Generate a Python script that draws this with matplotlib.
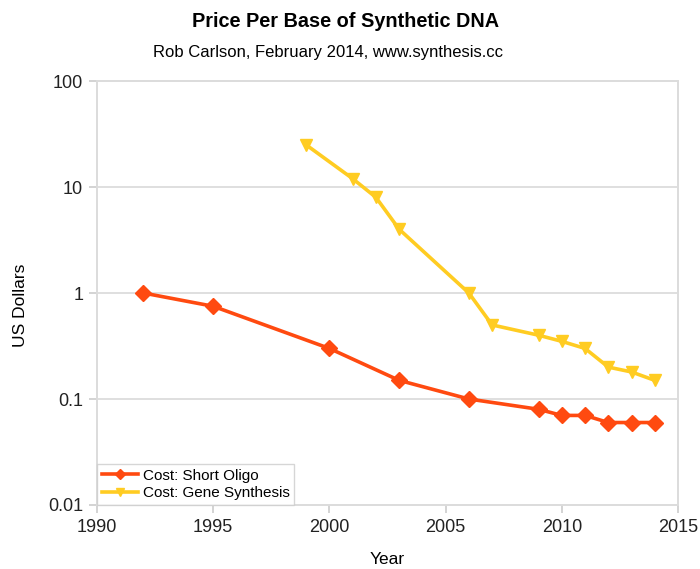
import matplotlib
matplotlib.use("Agg")
import matplotlib.pyplot as plt

# Short oligo synthesis cost per base (USD)
oligo_years = [1992, 1995, 2000, 2003, 2006, 2009, 2010, 2011, 2012, 2013, 2014]
oligo_price = [1.0, 0.75, 0.30, 0.15, 0.10, 0.08, 0.07, 0.07, 0.06, 0.06, 0.06]

# Gene synthesis cost per base (USD)
gene_years = [1999, 2001, 2002, 2003, 2006, 2007, 2009, 2010, 2011, 2012, 2013, 2014]
gene_price = [25, 12, 8, 4, 1.0, 0.5, 0.4, 0.35, 0.30, 0.20, 0.18, 0.15]

x_ticks = [1990, 1995, 2000, 2005, 2010, 2015]
y_ticks = [0.01, 0.1, 1, 10, 100]
y_tick_labels = ["0.01", "0.1", "1", "10", "100"]

plt.rcParams["font.family"] = ["Liberation Sans", "DejaVu Sans"]

fig = plt.figure(figsize=(7, 5.69), dpi=100)
ax = fig.add_axes([0.1386, 0.1125, 0.830, 0.745])

ax.plot(oligo_years, oligo_price, color="#ff4a10", lw=2.6, marker="D",
        markersize=8, label="Cost: Short Oligo")
ax.plot(gene_years, gene_price, color="#ffcc22", lw=2.6, marker="v",
        markersize=9, label="Cost: Gene Synthesis")

ax.set_yscale("log")
ax.set_xlim(1990, 2015)
ax.set_ylim(0.01, 100)
ax.set_xticks(x_ticks)
ax.set_xticklabels([str(t) for t in x_ticks], fontsize=13, color="#222222")
ax.set_yticks(y_ticks)
ax.set_yticklabels(y_tick_labels, fontsize=13, color="#222222")
ax.minorticks_off()
ax.yaxis.grid(True, color="#d9d9d9", lw=1.2)
ax.set_axisbelow(True)

for s in ax.spines.values():
    s.set_color("#dcdcdc")
    s.set_linewidth(1.4)
ax.tick_params(axis="both", color="#cccccc", length=6, width=1.2, pad=4)

ax.set_xlabel("Year", fontsize=12.5)
ax.xaxis.set_label_coords(0.50, -0.11)
ax.set_ylabel("US Dollars", fontsize=12.5)
ax.yaxis.set_label_coords(-0.119, 0.47)

fig.text(0.493, 0.962, "Price Per Base of Synthetic DNA", ha="center",
         va="center", fontsize=14.3, fontweight="bold")
fig.text(0.469, 0.908, "Rob Carlson, February 2014, www.synthesis.cc",
         ha="center", va="center", fontsize=12)

leg = ax.legend(loc="lower left", fontsize=11, frameon=True, fancybox=False,
                borderaxespad=0.0, handlelength=2.4, handletextpad=0.3,
                labelspacing=0.25, borderpad=0.3, markerscale=0.6)
leg.get_frame().set_edgecolor("#cccccc")
leg.get_frame().set_linewidth(1.0)

fig.savefig("out.png", dpi=100)
